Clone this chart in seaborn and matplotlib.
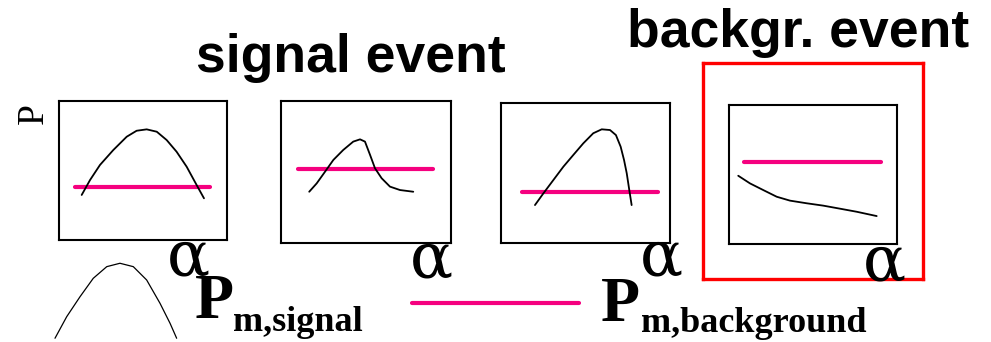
import matplotlib
matplotlib.use("Agg")
import matplotlib.pyplot as plt
import seaborn as sns

sns.set_style("white")
plt.rcParams["text.color"] = "black"

# curve shapes, each panel on a 0-100 scale
sig1_x = [13.5, 18.5, 24.4, 32.3, 40.3, 46.2, 52.2, 58.2, 64.1, 70.0, 76.0, 81.9, 86.3]
sig1_y = [32.4, 43.2, 54.0, 64.7, 74.3, 78.6, 79.6, 77.9, 71.9, 63.5, 52.7, 39.6, 30.0]
sig2_x = [16.6, 21.0, 25.9, 30.8, 36.6, 42.5, 46.5, 49.4, 52.4, 55.3, 59.2, 64.1, 70.0, 77.8]
sig2_y = [36.1, 42.0, 50.2, 58.5, 65.5, 71.4, 73.0, 71.4, 62.0, 52.6, 45.6, 39.7, 37.3, 36.1]
sig3_x = [20.1, 25.1, 31.0, 36.9, 42.8, 48.7, 54.6, 59.6, 64.5, 68.0, 70.8, 72.8, 74.4, 75.9, 77.3]
sig3_y = [27.1, 35.5, 45.0, 54.5, 62.9, 71.2, 78.4, 81.2, 80.7, 77.1, 68.8, 59.3, 49.8, 37.9, 27.1]
bkg_x = [5.5, 12.5, 20.4, 28.4, 36.3, 46.2, 56.1, 66.1, 76.0, 87.9]
bkg_y = [49.1, 43.6, 38.8, 34.0, 31.2, 29.3, 27.6, 25.4, 23.2, 20.1]

# flat P_m,background levels per panel: (x start, x end, level)
flat_lines = [(9.5, 89.9, 38.1), (10.2, 89.6, 52.3), (12.6, 93.1, 36.2), (8.9, 90.3, 58.8)]

# reference pdf sketch at bottom left
ref_x = [10, 17.8, 26.7, 35.5, 44.5, 53.3, 62.2, 71.1, 80, 86.7, 91.1]
ref_y = [4.3, 29.1, 52.1, 73.2, 86.6, 90.5, 86.6, 71.3, 44.5, 21.5, 4.3]
legend_flat = (6, 89.5, 50)

MAGENTA = "#f5007f"
W, H = 991, 342
fig = plt.figure(figsize=(W / 100, H / 100), dpi=100)


def box(x0, y0, x1, y1, zorder=1):
    ax = fig.add_axes([x0 / W, 1 - y1 / H, (x1 - x0) / W, (y1 - y0) / H], zorder=zorder)
    ax.set_xlim(0, 100)
    ax.set_ylim(0, 100)
    ax.set_xticks([])
    ax.set_yticks([])
    return ax


# red frame around the background event
red = box(703, 63, 923, 279, zorder=0)
red.patch.set_alpha(0)
for s in red.spines.values():
    s.set_color("#ff0000")
    s.set_linewidth(2.4)

panels = [(59, 101, 227, 240), (281, 101, 451, 243), (501, 103, 670, 243), (729, 105, 897, 244)]
curves = [(sig1_x, sig1_y), (sig2_x, sig2_y), (sig3_x, sig3_y), (bkg_x, bkg_y)]
for pos, (cx, cy), (fx0, fx1, lvl) in zip(panels, curves, flat_lines):
    ax = box(*pos, zorder=2)
    for s in ax.spines.values():
        s.set_color("black")
        s.set_linewidth(1.5)
    sns.lineplot(x=[fx0, fx1], y=[lvl, lvl], ax=ax, color=MAGENTA, lw=3, sort=False, estimator=None)
    sns.lineplot(x=cx, y=cy, ax=ax, color="black", lw=1.3, sort=False, estimator=None)
    ax.set_xlabel("")
    ax.set_ylabel("")

ax_ref = box(40, 255, 190, 342)
ax_ref.axis("off")
sns.lineplot(x=ref_x, y=ref_y, ax=ax_ref, color="black", lw=0.9, sort=False, estimator=None)

ax_flat = box(400, 280, 600, 326)
ax_flat.axis("off")
sns.lineplot(x=[legend_flat[0], legend_flat[1]], y=[legend_flat[2]] * 2, ax=ax_flat,
             color=MAGENTA, lw=3, sort=False, estimator=None)

sans = "Liberation Sans"
serif = "Liberation Serif"


def txt(px, py, s, **kw):
    fig.text(px / W, 1 - py / H, s, color="black", **kw)


txt(351, 72, "signal event", family=sans, weight="bold", size=38.5, ha="center", va="baseline")
txt(798, 47, "backgr. event", family=sans, weight="bold", size=38.5, ha="center", va="baseline")
txt(34, 114, "P", family=serif, size=27, rotation=90, ha="center", va="center")

for ax_, ay in [(188, 275), (431, 277), (661, 275), (884, 280)]:
    txt(ax_, ay, "α", family="DejaVu Serif", size=46, ha="center", va="baseline")

txt(195, 318, "P", family=serif, weight="bold", size=46, ha="left", va="baseline")
txt(233, 331, "m,signal", family=serif, weight="bold", size=26, ha="left", va="baseline")
txt(601, 321, "P", family=serif, weight="bold", size=46, ha="left", va="baseline")
txt(641, 332, "m,background", family=serif, weight="bold", size=26, ha="left", va="baseline")

fig.savefig("out.png", dpi=100)
